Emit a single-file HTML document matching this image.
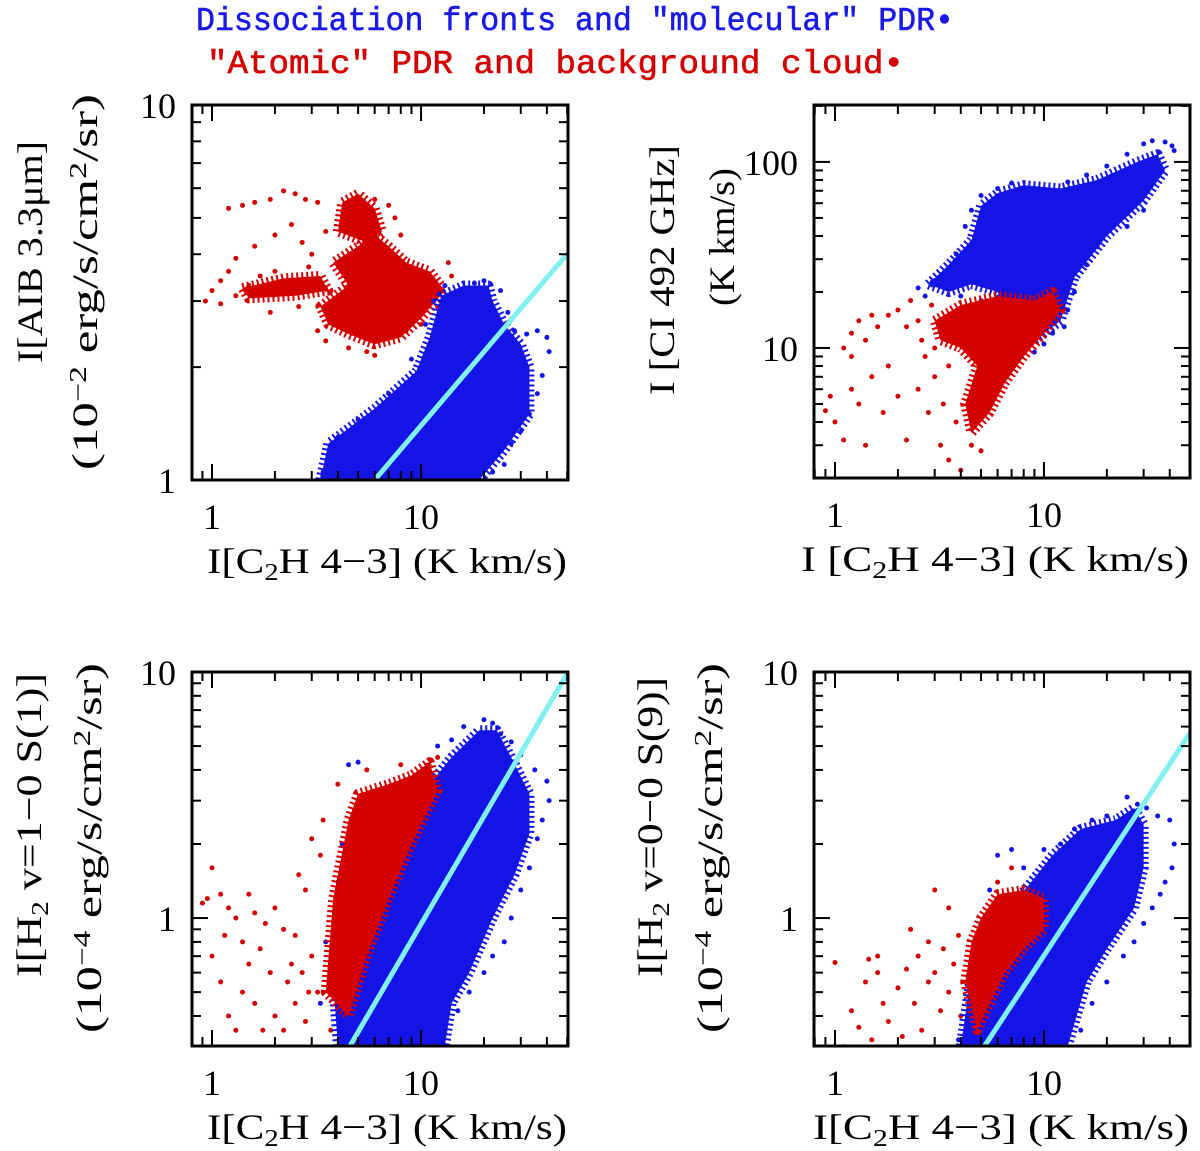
<!DOCTYPE html>
<html><head><meta charset="utf-8"><style>
html,body{margin:0;padding:0;background:#fff;}
svg{display:block;}
.ser{font-family:"Liberation Serif",serif;fill:#000;}
.mono{font-family:"Liberation Mono",monospace;}
</style></head><body>
<svg id="chart" width="1200" height="1151" viewBox="0 0 1200 1151" xmlns="http://www.w3.org/2000/svg">
<text class="mono" x="196" y="30" font-size="33" fill="#1a1ae6" stroke="#1a1ae6" stroke-width="0.6" textLength="758" lengthAdjust="spacingAndGlyphs">Dissociation fronts and "molecular" PDR•</text>
<text class="mono" x="207" y="73" font-size="33" fill="#d40000" stroke="#d40000" stroke-width="0.6" textLength="697" lengthAdjust="spacingAndGlyphs">"Atomic" PDR and background cloud•</text>
</svg>
<script>
// ---------- DATA ----------
const xTickLabels = ["1", "10"];
const p1YTickLabels = ["1", "10"];
const p2YTickLabels = ["10", "100"];
const p3YTickLabels = ["1", "10"];
const p4YTickLabels = ["1", "10"];

const p1BlueCore = [[3.3,1],[3.6,1.25],[6,1.55],[9.5,1.95],[11,2.4],[12.5,3.1],[16,3.3],[21,3.3],[22,3],[25,2.6],[30,2.3],[33,2.0],[33,1.5],[25,1.2],[19,1.0]];
const p1BluePts = [[3.4,1.05],[4,1.3],[5,1.45],[7,1.7],[8,1.6],[9,2.1],[10.5,2.6],[11.5,3.0],[13,3.3],[18,3.35],[20,3.4],[24,3.2],[26,2.8],[28,2.5],[32,2.45],[36,2.5],[40,2.4],[41,2.2],[38,1.9],[36,1.7],[33,1.5],[30,1.35],[27,1.25],[25,1.1],[22,1.05],[20,1.0],[15,1.1],[12,1.2],[17,1.4],[14,2.9],[9,1.8],[6,1.35],[4.5,1.15],[3.8,1.2]];
const p1RedCore = [[3.3,2.9],[4.5,3.3],[3.8,3.8],[5,4.2],[6,4.5],[7,4.2],[8.5,3.8],[11,3.6],[13,3.2],[10,2.7],[8,2.4],[6,2.3],[4.5,2.45],[3.6,2.6]];
const p1RedPocket = [[4,4.6],[4.2,5.5],[5,5.8],[6,5.3],[6.5,4.6],[5.5,4.3]];
const p1RedBand = [[1.4,3.25],[2.2,3.45],[3.3,3.5],[3.6,3.2],[2.5,3.1],[1.5,3.05]];
const p1RedPts = [[0.93,3.0],[1.0,3.2],[1.1,3.4],[1.2,3.6],[1.3,3.1],[1.5,3.3],[1.7,3.5],[2,3.6],[2.3,3.4],[2.5,3.3],[1.2,5.3],[1.4,5.4],[1.6,5.5],[1.9,5.6],[2.2,5.9],[2.5,5.8],[2.8,5.6],[3.2,5.5],[2.0,4.5],[2.4,4.8],[1.6,4.2],[1.3,3.9],[2.7,4.3],[3.0,4.0],[3.5,4.6],[6,5.6],[7,5.4],[7.5,5.0],[8,4.5],[7,4.0],[3.2,2.5],[3.5,2.35],[4.5,2.25],[5.5,2.2],[6,2.15],[7,2.4],[8.5,2.5],[10,2.6],[12,2.9],[14,3.5],[13.5,3.8],[4.2,3.0],[5,2.7],[1.1,2.95],[1.9,2.8],[2.6,2.9],[2.9,3.7]];
const p1Fit = [[6.0,1],[50.5,4.03]];

const p2BlueCore = [[2.8,22],[3.5,28],[4.5,38],[5,58],[6,68],[8,75],[12,72],[18,80],[28,100],[35,110],[38,90],[30,62],[20,40],[14,24],[12,14],[9,11],[7,14],[6,20],[4.5,22],[3.5,20]];
const p2BluePts = [[2.5,21],[2.7,19],[3,23],[3.3,25],[3.8,32],[4.2,45],[4.5,55],[5,66],[6,72],[7,77],[9,70],[13,78],[16,85],[20,95],[25,110],[30,125],[33,130],[38,128],[41,122],[42,115],[35,100],[33,80],[30,55],[25,45],[18,35],[16,28],[14,20],[13,16],[12.5,13],[11,12],[10,10.5],[9,9.5],[8,10],[7,11],[6,15],[5,18],[4,19]];
const p2RedCore = [[3,14],[4,17],[6,19],[9,18],[11,20],[12,16],[10,12],[8,9],[6.5,6.5],[5.5,4.5],[4.5,3.5],[4.2,5],[4.8,8],[4,10],[3.2,11]];
const p2RedPts = [[0.9,4.6],[0.95,5.5],[1,4],[1.1,3.2],[1.2,6],[1.3,5],[1.4,3],[1.5,7],[1.7,4.5],[1.8,8],[2,5.5],[2.2,3.2],[2.5,6],[2.8,4.5],[3,7],[3.3,5],[1.1,10],[1.2,12],[1.3,14],[1.4,11],[1.6,13],[1.8,15],[2,16],[2.3,18],[2.5,14],[2.7,9],[3,10],[3.5,8],[3.2,3],[3.5,2.5],[4,2.2],[4.5,3],[5,2.8],[3.8,4],[6,7],[7,8],[7.5,9],[2.9,17],[2.2,13],[1.5,15],[1.2,9],[2.6,11]];

const p3BlueCore = [[4,0.302],[3.8,0.55],[4.5,0.9],[6,1.4],[8,2],[11,3.5],[14,4.5],[19,5.8],[23,5.8],[27,4.5],[33,3.2],[33,2.2],[28,1.5],[22,1.0],[17,0.6],[14,0.45],[13,0.302]];
const p3BluePts = [[4,1.4],[4.2,2.0],[4.7,1.7],[5.5,2.2],[6.5,2.8],[8,3.4],[10,3.8],[12,5],[14,5.3],[16,6],[20,6.4],[22,6.2],[24,5.6],[27,5.2],[30,4.6],[35,4.0],[40,3.6],[41,3.0],[38,2.5],[36,2.1],[33,1.6],[30,1.3],[27,1.0],[25,0.8],[22,0.7],[20,0.6],[17,0.5],[15,0.42],[13,0.35],[9,0.35],[7,0.5],[5,0.4],[10,1.1],[14,2.2],[18,3.0],[4.5,4.2],[5,4.3],[3.5,0.8],[3.3,0.45]];
const p3RedCore = [[3.5,0.5],[3.8,1.2],[4.5,2.5],[5,3.2],[7,3.5],[9,3.8],[11,4.3],[12,3.3],[9,2],[7,1.2],[5.5,0.7],[4.5,0.4]];
const p3RedPts = [[0.9,1.15],[0.95,1.2],[1,1.6],[1.1,1.25],[1.2,1.1],[1.3,1.0],[1.5,1.25],[1.6,1.05],[1.8,0.95],[2,1.1],[2.2,0.9],[2.5,0.85],[1.1,0.55],[1.2,0.4],[1.3,0.35],[1.4,0.5],[1.5,0.65],[1.6,0.45],[1.7,0.75],[1.9,0.6],[2,0.4],[2.2,0.35],[2.3,0.55],[2.5,0.45],[2.7,0.6],[2.8,0.38],[3,0.7],[3.2,0.5],[2.8,1.3],[2.6,1.5],[3,2.1],[3.3,1.8],[3.4,2.5],[1,0.7],[1.4,0.8],[4,3.5],[5.5,4],[8,4.2],[12,4.5],[13,3.8],[11,2.5],[3.7,0.35],[1.15,0.85],[1.75,0.35],[2.4,0.65],[2.9,0.5]];
const p3Fit = [[4.57,0.302],[50.5,10]];

const p4BlueCore = [[4,0.302],[4.5,0.6],[7.5,1.2],[11,1.8],[15,2.3],[22,2.5],[27,2.8],[30,2.4],[30,1.6],[27,1.1],[20,0.75],[16,0.55],[13,0.302]];
const p4BluePts = [[4.6,0.7],[5,0.9],[5.5,1.3],[6,1.8],[7,1.9],[8,1.6],[10,1.9],[12,2.0],[14,2.3],[17,2.5],[20,2.6],[25,3.1],[28,2.9],[31,2.8],[35,2.6],[40,2.5],[42,2.0],[41,1.6],[38,1.4],[36,1.25],[33,1.1],[30,0.95],[27,0.8],[24,0.7],[20,0.55],[17,0.45],[15,0.35],[13,0.33],[9,0.35],[6,0.35],[5,0.4],[3.9,0.32],[12,0.9],[18,1.4],[22,1.8],[26,2.2]];
const p4RedCore = [[4.2,0.55],[4.5,0.8],[5,1.0],[6,1.25],[8,1.3],[10,1.2],[10,0.9],[8,0.75],[6.5,0.6],[5.5,0.45],[4.8,0.35]];
const p4RedPts = [[1.1,0.3],[1.2,0.42],[1.3,0.36],[1.4,0.55],[1.5,0.32],[1.6,0.6],[1.7,0.45],[1.8,0.38],[2,0.52],[2.1,0.33],[2.2,0.62],[2.4,0.45],[2.5,0.7],[2.6,0.35],[2.8,0.55],[3,0.6],[3.2,0.42],[3.3,0.75],[3.5,0.5],[3.7,0.65],[3.9,0.85],[1.45,0.68],[1,0.66],[1.6,0.7],[2.3,0.9],[2.8,0.8],[3,1.3],[3.5,1.1],[6,1.4],[7,1.6],[4,0.4],[8,0.6],[10,0.5],[12,0.35]];
const p4Fit = [[5.2,0.302],[50,5.65]];

// ---------- RENDER ----------
const NS = "http://www.w3.org/2000/svg";
const svg = document.getElementById("chart");
const BLUE = "#1414e6", RED = "#d40000", CYAN = "#80f0f0";

function mk(tag, attrs, parent) {
  const e = document.createElementNS(NS, tag);
  for (const k in attrs) e.setAttribute(k, attrs[k]);
  (parent || svg).appendChild(e);
  return e;
}

function panel(cfg) {
  const g = mk("g", {});
  
  
  const clipId = cfg.name + "-clip";
  const cp = mk("clipPath", {id: clipId}, g);
  mk("rect", {x: cfg.x0, y: cfg.y0, width: cfg.x1 - cfg.x0, height: cfg.y1 - cfg.y0}, cp);
  const sx = v => cfg.x0 + (Math.log10(v) - cfg.lx0) / (cfg.lx1 - cfg.lx0) * (cfg.x1 - cfg.x0);
  const sy = v => cfg.y1 - (Math.log10(v) - cfg.ly0) / (cfg.ly1 - cfg.ly0) * (cfg.y1 - cfg.y0);
  const data = mk("g", {"clip-path": "url(#" + clipId + ")"}, g);
  function core(arr, col, nm) {
    const p = mk("polygon", {points: arr.map(d => sx(d[0]) + "," + sy(d[1])).join(" "), fill: col, stroke: col, "stroke-width": 10, "stroke-linejoin": "round", "stroke-dasharray": "2 3"}, data);
    
    
  }
  function pts(arr, col, nm) {
    arr.forEach(d => {
      const c = mk("circle", {cx: sx(d[0]), cy: sy(d[1]), r: 2.5, fill: col}, data);
      
      
    });
  }
  cfg.draw(core, pts);
  if (cfg.fit) {
    const l = mk("line", {x1: sx(cfg.fit[0][0]), y1: sy(cfg.fit[0][1]), x2: sx(cfg.fit[1][0]), y2: sy(cfg.fit[1][1]), stroke: CYAN, "stroke-width": 5}, data);
    
    
  }
  const fr = mk("rect", {x: cfg.x0, y: cfg.y0, width: cfg.x1 - cfg.x0, height: cfg.y1 - cfg.y0, fill: "none", stroke: "#000", "stroke-width": 3}, g);
  
  
  const tg = mk("g", {stroke: "#000", "stroke-width": 2}, g);
  
  
  for (let dec = Math.floor(cfg.lx0); dec <= Math.ceil(cfg.lx1); dec++) {
    for (let m = 1; m <= 9; m++) {
      const v = m * Math.pow(10, dec), lv = Math.log10(v);
      if (lv < cfg.lx0 || lv > cfg.lx1) continue;
      const x = sx(v), L = m === 1 ? 16 : 9;
      mk("line", {x1: x, y1: cfg.y1, x2: x, y2: cfg.y1 - L}, tg);
      mk("line", {x1: x, y1: cfg.y0, x2: x, y2: cfg.y0 + L}, tg);
    }
  }
  for (let dec = Math.floor(cfg.ly0); dec <= Math.ceil(cfg.ly1); dec++) {
    for (let m = 1; m <= 9; m++) {
      const v = m * Math.pow(10, dec), lv = Math.log10(v);
      if (lv < cfg.ly0 - 1e-6 || lv > cfg.ly1 + 1e-6) continue;
      const y = sy(v), L = m === 1 ? 16 : 9;
      mk("line", {x1: cfg.x0, y1: y, x2: cfg.x0 + L, y2: y}, tg);
      mk("line", {x1: cfg.x1, y1: y, x2: cfg.x1 - L, y2: y}, tg);
    }
  }
  xTickLabels.forEach(s => {
    const t = mk("text", {x: sx(+s), y: cfg.y1 + 49, "text-anchor": "middle", "font-size": 36, class: "ser"}, g);
    t.textContent = s;
    
    
  });
  cfg.yTicks.forEach(s => {
    const t = mk("text", {x: cfg.x0 - 16, y: sy(+s) + 13, "text-anchor": "end", "font-size": 36, class: "ser"}, g);
    t.textContent = s;
    
    
  });
  const xt = mk("text", {x: cfg.x1 - 1, y: cfg.y1 + 93, "text-anchor": "end", "font-size": 36, class: "ser", textLength: cfg.xtLen, lengthAdjust: "spacingAndGlyphs"}, g);
  xt.innerHTML = cfg.xTitle;
  
  
  cfg.yTitles.forEach(yt => {
    const t = mk("text", {x: 0, y: 0, "text-anchor": "middle", "font-size": 36, class: "ser", transform: "translate(" + yt.x + "," + yt.y + ") rotate(-90)", textLength: yt.len, lengthAdjust: "spacingAndGlyphs"}, g);
    t.innerHTML = yt.html;
    
    
  });
}

const sub = s => '<tspan baseline-shift="-30%" font-size="24">' + s + '</tspan>';
const sup = s => '<tspan baseline-shift="45%" font-size="24">' + s + '</tspan>';
const c2h = 'I[C' + sub('2') + '<tspan>H 4−3] (K km/s)</tspan>';

panel({name: "panel-aib", x0: 192, x1: 568, y0: 105, y1: 480, lx0: -0.0957, lx1: 1.703, ly0: 0, ly1: 1,
  yTicks: p1YTickLabels, fit: p1Fit, xTitle: c2h, xtLen: 360,
  yTitles: [{x: 42, y: 252, len: 222, html: 'I[AIB 3.3μm]'},
            {x: 97, y: 282, len: 376, html: '(10' + sup('−2') + '<tspan> erg/s/cm</tspan>' + sup('2') + '<tspan>/sr)</tspan>'}],
  draw: (core, pts) => {
    core(p1RedCore, RED, "red-dense-core"); core(p1RedPocket, RED, "red-dense-core"); core(p1RedBand, RED, "red-dense-core"); pts(p1RedPts, RED, "red-point");
    core(p1BlueCore, BLUE, "blue-dense-core"); pts(p1BluePts, BLUE, "blue-point");
  }});

panel({name: "panel-ci", x0: 814, x1: 1190, y0: 105, y1: 478, lx0: -0.1005, lx1: 1.699, ly0: 0.301, ly1: 2.306,
  yTicks: p2YTickLabels, fit: null, xTitle: 'I [C' + sub('2') + '<tspan>H 4−3] (K km/s)</tspan>', xtLen: 388,
  yTitles: [{x: 674, y: 270, len: 250, html: 'I [CI 492 GHz]'},
            {x: 734, y: 237, len: 138, html: '(K km/s)'}],
  draw: (core, pts) => {
    core(p2BlueCore, BLUE, "blue-dense-core"); pts(p2BluePts, BLUE, "blue-point");
    core(p2RedCore, RED, "red-dense-core"); pts(p2RedPts, RED, "red-point");
  }});

panel({name: "panel-h2-s1", x0: 192, x1: 568, y0: 672, y1: 1046, lx0: -0.0957, lx1: 1.703, ly0: Math.log10(0.302), ly1: 1,
  yTicks: p3YTickLabels, fit: p3Fit, xTitle: c2h, xtLen: 360,
  yTitles: [{x: 41, y: 825, len: 304, html: 'I[H' + sub('2') + '<tspan> v=1−0 S(1)]</tspan>'},
            {x: 101, y: 848, len: 370, html: '(10' + sup('−4') + '<tspan> erg/s/cm</tspan>' + sup('2') + '<tspan>/sr)</tspan>'}],
  draw: (core, pts) => {
    pts(p3RedPts, RED, "red-point"); core(p3BlueCore, BLUE, "blue-dense-core"); pts(p3BluePts, BLUE, "blue-point");
    core(p3RedCore, RED, "red-dense-core");
  }});

panel({name: "panel-h2-s9", x0: 814, x1: 1190, y0: 672, y1: 1046, lx0: -0.1005, lx1: 1.699, ly0: Math.log10(0.302), ly1: 1,
  yTicks: p4YTickLabels, fit: p4Fit, xTitle: c2h, xtLen: 376,
  yTitles: [{x: 662, y: 827, len: 300, html: 'I[H' + sub('2') + '<tspan> v=0−0 S(9)]</tspan>'},
            {x: 722, y: 848, len: 370, html: '(10' + sup('−4') + '<tspan> erg/s/cm</tspan>' + sup('2') + '<tspan>/sr)</tspan>'}],
  draw: (core, pts) => {
    pts(p4RedPts, RED, "red-point"); core(p4BlueCore, BLUE, "blue-dense-core"); pts(p4BluePts, BLUE, "blue-point");
    core(p4RedCore, RED, "red-dense-core");
  }});
</script>
</body></html>
